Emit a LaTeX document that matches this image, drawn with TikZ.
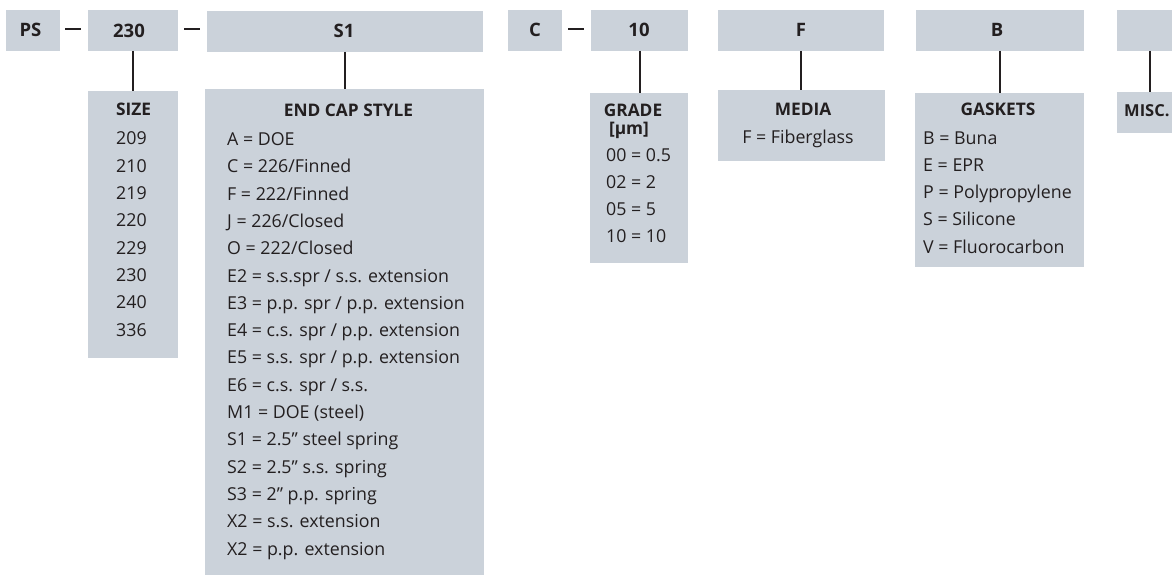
\documentclass[tikz,border=0pt]{standalone}
\usepackage{fontspec}
\setmainfont{Open Sans}
\definecolor{boxfill}{HTML}{CBD2DA}
\definecolor{ink}{HTML}{231F20}
\begin{document}
\begin{tikzpicture}[x=1pt,y=-1pt,
  box/.style={fill=boxfill, draw=none, inner sep=0pt, outer sep=0pt, anchor=north west},
  toplabel/.style={font=\fontsize{18.5}{18.5}\selectfont\bfseries, text=ink, inner sep=0pt, anchor=base},
  head/.style={font=\fontsize{17.3}{17.3}\selectfont\bfseries, text=ink, inner sep=0pt, anchor=base},
  item/.style={font=\fontsize{17.8}{17.8}\selectfont, text=ink, inner sep=0pt, anchor=base west},
  link/.style={draw=ink, line width=2pt},
  hyph/.style={draw=ink, line width=1.3pt}]
\useasboundingbox (0,0) rectangle (1172,575);
% top boxes
\node[box, minimum width=54, minimum height=41] (ps) at (6,10) {};
\node[box, minimum width=90, minimum height=41] (b230) at (88,10) {};
\node[box, minimum width=276, minimum height=41] (bs1) at (207,11) {};
\node[box, minimum width=54, minimum height=41] (bc) at (508,10) {};
\node[box, minimum width=97, minimum height=41] (b10) at (591,10) {};
\node[box, minimum width=166, minimum height=41] (bf) at (718,10) {};
\node[box, minimum width=168, minimum height=41] (bb) at (916,10) {};
\node[box, minimum width=66, minimum height=41] (bm) at (1117,10) {};
% lower boxes
\node[box, minimum width=90, minimum height=267] (size) at (88,91) {};
\node[box, minimum width=279, minimum height=486] (endcap) at (205,89) {};
\node[box, minimum width=98, minimum height=170] (grade) at (590,93) {};
\node[box, minimum width=167, minimum height=71] (media) at (718,90) {};
\node[box, minimum width=169, minimum height=174] (gaskets) at (915,93) {};
\node[box, minimum width=66, minimum height=41] (misc) at (1117,92) {};
% top labels
\node[toplabel] (tps) at (30.5,37) {PS};
\node[toplabel] (t230) at (129,37.5) {230};
\node[toplabel] (ts1) at (344,37.5) {S1};
\node[toplabel] (tc) at (535,37) {C};
\node[toplabel] (t10) at (639,37) {10};
\node[toplabel] (tf) at (801,37) {F};
\node[toplabel] (tb) at (997,37) {B};
% hyphens
\draw[hyph, shorten <=5pt, shorten >=7pt] ([yshift=1.5pt]ps.east) -- ([yshift=1.5pt]b230.west);
\draw[hyph, shorten <=6pt, shorten >=7pt] ([yshift=1.5pt]b230.east) -- ([yshift=1.5pt]b230.east -| bs1.west);
\draw[hyph, shorten <=6pt, shorten >=7pt] ([yshift=1.5pt]bc.east) -- ([yshift=1.5pt]b10.west);
% connectors
\draw[link] (b230.south) -- (b230.south |- size.north);
\draw[link] (bs1.south) -- (bs1.south |- endcap.north);
\draw[link] (b10.south) -- (b10.south |- grade.north);
\draw[link] (bf.south) -- (bf.south |- media.north);
\draw[link] (bb.south) -- (bb.south |- gaskets.north);
\draw[link] (bm.south) -- (bm.south |- misc.north);
% SIZE
\node[head] (hsize) at (133.5,115.7) {SIZE};
\foreach \t [count=\k from 0] in {209,210,219,220,229,230,240,336}
  \node[item] (size\k) at (116,145+27.3*\k) {\t};
% END CAP STYLE
\node[head] (hend) at (348.5,116.5) {END CAP STYLE};
\foreach \t [count=\k from 0] in {A = DOE, C = 226/Finned, F = 222/Finned, J = 226/Closed,
  O = 222/Closed, E2 = s.s.spr / s.s. extension, E3 = p.p. spr / p.p. extension,
  E4 = c.s. spr / p.p. extension, E5 = s.s. spr / p.p. extension, E6 = c.s. spr / s.s.,
  M1 = DOE (steel), S1 = 2.5" steel spring, S2 = 2.5" s.s. spring, S3 = 2" p.p. spring,
  X2 = s.s. extension, X2 = p.p. extension}
  \node[item] (end\k) at (227,145.5+27.3*\k) {\t};
% GRADE
\node[head] (hgrade) at (633,117) {GRADE};
\node[head] (hgrade2) at (629,135) {[µm]};
\foreach \t [count=\k from 0] in {00 = 0.5, 02 = 2, 05 = 5, 10 = 10}
  \node[item] (grade\k) at (606,161+27*\k) {\t};
% MEDIA
\node[head] (hmedia) at (803,115.5) {MEDIA};
\node[item, anchor=base] (media0) at (798,143) {F = Fiberglass};
% GASKETS
\node[head] (hgask) at (998,116) {GASKETS};
\foreach \t [count=\k from 0] in {B = Buna, E = EPR, P = Polypropylene, S = Silicone, V = Fluorocarbon}
  \node[item] (gask\k) at (923,144.3+27.2*\k) {\t};
% MISC
\node[head, anchor=base west, font=\fontsize{16.5}{16.5}\selectfont\bfseries] (hmisc) at (1124,116.7) {MISC.};
\end{tikzpicture}
\end{document}
